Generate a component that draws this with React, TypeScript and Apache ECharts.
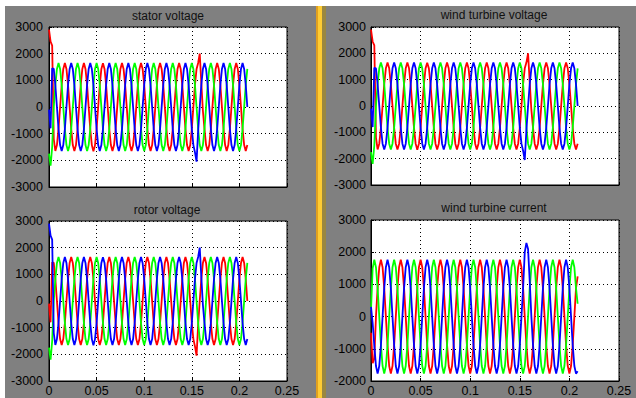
import React, { useEffect, useRef } from "react";
import * as echarts from "echarts";

// sampling step of the recorded signals (s)
const SAMPLE_STEP = 1 / 600;

// voltage phases (V) — stator / wind turbine voltage
const vRed = [
  2900, 2450, 2300, -1200, -1650, -1429, -825, 0, 825, 1429, 1650, 1429,
  825, 0, -825, -1429, -1650, -1429, -825, 0, 825, 1429, 1650, 1429,
  825, 0, -825, -1429, -1660, -1429, -825, 0, 825, 1429, 1640, 1429,
  825, 0, -825, -1429, -1650, -1429, -825, 0, 825, 1429, 1650, 1429,
  825, 0, -825, -1429, -1650, -1429, -825, 0, 825, 1429, 1650, 1429,
  825, 0, -825, -1429, -1650, -1429, -825, 0, 825, 1429, 1650, 1429,
  825, 0, -825, -1429, -1650, -1429, -825, 0, 825, 1429, 1650, 1429,
  825, 0, -825, -1429, -1650, -1429, -825, 0, 825, 1429, 1650, 2000,
  900, -150, -825, -1429, -1650, -1429, -825, 0, 825, 1429, 1650, 1429,
  825, 0, -825, -1429, -1650, -1429, -825, 0, 825, 1429, 1650, 1429,
  825, 0, -825, -1429, -1650, -1429,
];
const vGreen = [
  -1750, -2200, -1500, 0, 825, 1429, 1650, 1429, 825, 0, -825, -1429,
  -1650, -1429, -825, 0, 825, 1429, 1650, 1429, 825, 0, -825, -1429,
  -1650, -1429, -825, 0, 825, 1429, 1650, 1429, 825, 0, -825, -1429,
  -1650, -1429, -825, 0, 825, 1429, 1650, 1429, 825, 0, -825, -1429,
  -1650, -1429, -825, 0, 825, 1429, 1650, 1429, 825, 0, -825, -1429,
  -1650, -1429, -825, 0, 825, 1429, 1650, 1429, 825, 0, -825, -1429,
  -1650, -1429, -825, 0, 825, 1429, 1650, 1429, 825, 0, -825, -1429,
  -1650, -1429, -825, 0, 825, 1429, 1650, 1429, 825, 0, -825, -1429,
  -1650, -1429, -825, 0, 825, 1429, 1650, 1429, 825, 0, -825, -1429,
  -1650, -1429, -825, 0, 825, 1429, 1650, 1429, 825, 0, -825, -1429,
  -1650, -1429, -825, 0, 825, 1429,
];
const vBlue = [
  -100, -800, 1450, 1429, 825, 0, -825, -1429, -1650, -1429, -825, 0,
  825, 1429, 1650, 1429, 825, 0, -825, -1429, -1650, -1429, -825, 0,
  825, 1429, 1650, 1429, 825, 0, -825, -1429, -1650, -1429, -825, 0,
  825, 1429, 1650, 1429, 825, 0, -825, -1429, -1650, -1429, -825, 0,
  825, 1429, 1650, 1429, 825, 0, -825, -1429, -1650, -1429, -825, 0,
  825, 1429, 1650, 1429, 825, 0, -825, -1429, -1650, -1429, -825, 0,
  825, 1429, 1650, 1429, 825, 0, -825, -1429, -1650, -1429, -825, 0,
  825, 1429, 1650, 1429, 825, 0, -825, -1429, -1700, -2050, -900, 0,
  825, 1429, 1650, 1429, 825, 0, -825, -1429, -1650, -1429, -825, 0,
  825, 1429, 1650, 1429, 825, 0, -825, -1429, -1650, -1429, -825, 0,
  825, 1429, 1650, 1429, 825, 0,
];

// wind turbine current phases (A)
const iRed = [
  -500, -1450, -1300, 0, 885, 1533, 1770, 1533, 885, 0, -885, -1533,
  -1770, -1533, -885, 0, 885, 1533, 1770, 1533, 885, 0, -885, -1533,
  -1770, -1533, -885, 0, 885, 1533, 1770, 1533, 885, 0, -885, -1533,
  -1770, -1533, -885, 0, 885, 1533, 1770, 1533, 885, 0, -885, -1533,
  -1770, -1533, -885, 0, 885, 1533, 1770, 1533, 885, 0, -885, -1533,
  -1770, -1533, -885, 0, 885, 1533, 1770, 1533, 885, 0, -885, -1533,
  -1770, -1533, -885, 0, 885, 1533, 1770, 1533, 885, 0, -885, -1533,
  -1770, -1533, -885, 0, 885, 1533, 1770, 1533, 885, 0, -885, -1533,
  -1770, -1533, -885, 0, 885, 1533, 1770, 1533, 885, 0, -885, -1533,
  -1770, -1533, -885, 0, 885, 1533, 1770, 1533, 885, 0, -885, -1533,
  -1770, -1533, -885, 0, 885, 1250,
];
const iGreen = [
  200, 1500, 1770, 1533, 885, 0, -885, -1533, -1770, -1533, -885, 0,
  885, 1533, 1770, 1533, 885, 0, -885, -1533, -1770, -1533, -885, 0,
  885, 1533, 1770, 1533, 885, 0, -885, -1533, -1770, -1533, -885, 0,
  885, 1533, 1770, 1533, 885, 0, -885, -1533, -1770, -1533, -885, 0,
  885, 1533, 1770, 1533, 885, 0, -885, -1533, -1770, -1533, -885, 0,
  885, 1533, 1770, 1533, 885, 0, -885, -1533, -1770, -1533, -885, 0,
  885, 1533, 1770, 1533, 885, 0, -885, -1533, -1770, -1533, -885, 0,
  885, 1533, 1770, 1533, 885, 0, -885, -1533, -1770, -1533, -885, 0,
  885, 1533, 1770, 1533, 885, 0, -885, -1533, -1770, -1533, -885, 0,
  885, 1533, 1770, 1533, 885, 0, -885, -1533, -1770, -1533, -885, 0,
  885, 1533, 1770, 1533, 885, 400,
];
const iBlue = [
  300, -200, -900, -1533, -1770, -1533, -885, 0, 885, 1533, 1770, 1533,
  885, 0, -885, -1533, -1770, -1533, -885, 0, 885, 1533, 1770, 1533,
  885, 0, -885, -1533, -1770, -1533, -885, 0, 885, 1533, 1770, 1533,
  885, 0, -885, -1533, -1770, -1533, -885, 0, 885, 1533, 1770, 1533,
  885, 0, -885, -1533, -1770, -1533, -885, 0, 885, 1533, 1770, 1533,
  885, 0, -885, -1533, -1770, -1533, -885, 0, 885, 1533, 1770, 1533,
  885, 0, -885, -1533, -1770, -1533, -885, 0, 885, 1533, 1770, 1533,
  885, 0, -885, -1533, -1770, -1533, -885, 0, 885, 2000, 2290, 2100,
  1100, 0, -885, -1533, -1770, -1533, -885, 0, 885, 1533, 1770, 1533,
  885, 0, -885, -1533, -1770, -1533, -885, 0, 885, 1533, 1770, 1533,
  885, 0, -885, -1533, -1770, -1700,
];

const titles = ["stator voltage", "wind turbine voltage", "rotor voltage", "wind turbine current"];
const yRanges = [
  [-3000, 3000],
  [-3000, 3000],
  [-3000, 3000],
  [-2000, 3000],
];
const X_MIN = 0;
const X_MAX = 0.25;
const X_STEP = 0.05;
const Y_STEP = 1000;

const RED = "#ff0000";
const GREEN = "#00ff00";
const BLUE = "#0000ff";
const FONT = '"Liberation Sans", Arial, Helvetica, sans-serif';

const toPairs = (arr: number[]) => arr.map((v, i) => [i * SAMPLE_STEP, v]);

export default function App() {
  const ref = useRef<HTMLDivElement>(null);

  useEffect(() => {
    if (!ref.current) return;
    const chart = echarts.init(ref.current, null, { renderer: "svg" });

    const layouts = [
      { left: 49, top: 27, width: 238, height: 160, tx: 168, ty: 16, showX: false, lm: 6 },
      { left: 371, top: 27, width: 248, height: 158, tx: 494, ty: 15, showX: false, lm: 5 },
      { left: 49, top: 221, width: 238, height: 160, tx: 167, ty: 210, showX: true, lm: 6 },
      { left: 371, top: 220, width: 248, height: 161, tx: 494, ty: 207.5, showX: true, lm: 5 },
    ];

    const seriesSets: [number[], string][][] = [
      [[vRed, RED], [vGreen, GREEN], [vBlue, BLUE]],
      [[vRed, RED], [vGreen, GREEN], [vBlue, BLUE]],
      [[vBlue, RED], [vGreen, GREEN], [vRed, BLUE]],
      [[iRed, RED], [iGreen, GREEN], [iBlue, BLUE]],
    ];

    const grid = layouts.map((l) => ({
      left: l.left,
      top: l.top,
      width: l.width,
      height: l.height,
      show: true,
      backgroundColor: "#ffffff",
      borderColor: "#000000",
      borderWidth: 1,
      containLabel: false,
    }));

    const dotted = { color: "#000000", width: 1, type: [1, 3] as any };

    const xAxis = layouts.map((l, i) => ({
      type: "value",
      gridIndex: i,
      min: X_MIN,
      max: X_MAX,
      interval: X_STEP,
      axisLine: { show: true, onZero: false, lineStyle: { color: "#000" } },
      axisTick: { show: true, inside: true, length: 3, lineStyle: { color: "#000" } },
      axisLabel: {
        show: l.showX,
        color: "#000",
        fontSize: 12.5,
        fontFamily: FONT,
        margin: 3,
        formatter: (v: number) => String(+v.toFixed(2)),
      },
      splitLine: { show: true, lineStyle: dotted },
    }));

    const yAxis = layouts.map((l, i) => ({
      type: "value",
      gridIndex: i,
      min: yRanges[i][0],
      max: yRanges[i][1],
      interval: Y_STEP,
      axisLine: { show: true, onZero: false, lineStyle: { color: "#000" } },
      axisTick: { show: true, inside: true, length: 3, lineStyle: { color: "#000" } },
      axisLabel: {
        color: "#000",
        fontSize: 12.5,
        fontFamily: FONT,
        margin: l.lm,
        formatter: (v: number) => String(Math.round(v)),
      },
      splitLine: { show: true, lineStyle: dotted },
    }));

    const series: any[] = [];
    seriesSets.forEach((set, gi) => {
      set.forEach(([arr, color]) => {
        series.push({
          type: "line",
          xAxisIndex: gi,
          yAxisIndex: gi,
          data: toPairs(arr),
          showSymbol: false,
          symbol: "none",
          silent: true,
          lineStyle: { color, width: 1.8 },
          itemStyle: { color },
        });
      });
    });

    const graphic: any[] = [
      { type: "rect", shape: { x: 0, y: 0, width: 636, height: 6 }, style: { fill: "#ffffff" }, silent: true },
      { type: "rect", shape: { x: 0, y: 0, width: 5, height: 398 }, style: { fill: "#ffffff" }, silent: true },
      { type: "rect", shape: { x: 316, y: 6, width: 2, height: 392 }, style: { fill: "#e0a020" }, silent: true },
      { type: "rect", shape: { x: 318, y: 6, width: 4, height: 392 }, style: { fill: "#ffcc33" }, silent: true },
      { type: "rect", shape: { x: 322, y: 6, width: 4, height: 392 }, style: { fill: "#9a8740" }, silent: true },
    ];
    layouts.forEach((l, i) => {
      graphic.push({
        type: "text",
        x: l.tx,
        y: l.ty,
        silent: true,
        style: {
          text: titles[i],
          fill: "#111",
          font: `12px ${FONT}`,
          textAlign: "center",
          align: "center",
          textVerticalAlign: "middle",
          verticalAlign: "middle",
        },
      });
    });

    chart.setOption({
      animation: false,
      backgroundColor: "#808080",
      grid,
      xAxis,
      yAxis,
      series,
      graphic,
    });

    return () => chart.dispose();
  }, []);

  return (
    <div
      ref={ref}
      style={{ position: "absolute", left: 0, top: 0, width: 636, height: 398 }}
    />
  );
}
